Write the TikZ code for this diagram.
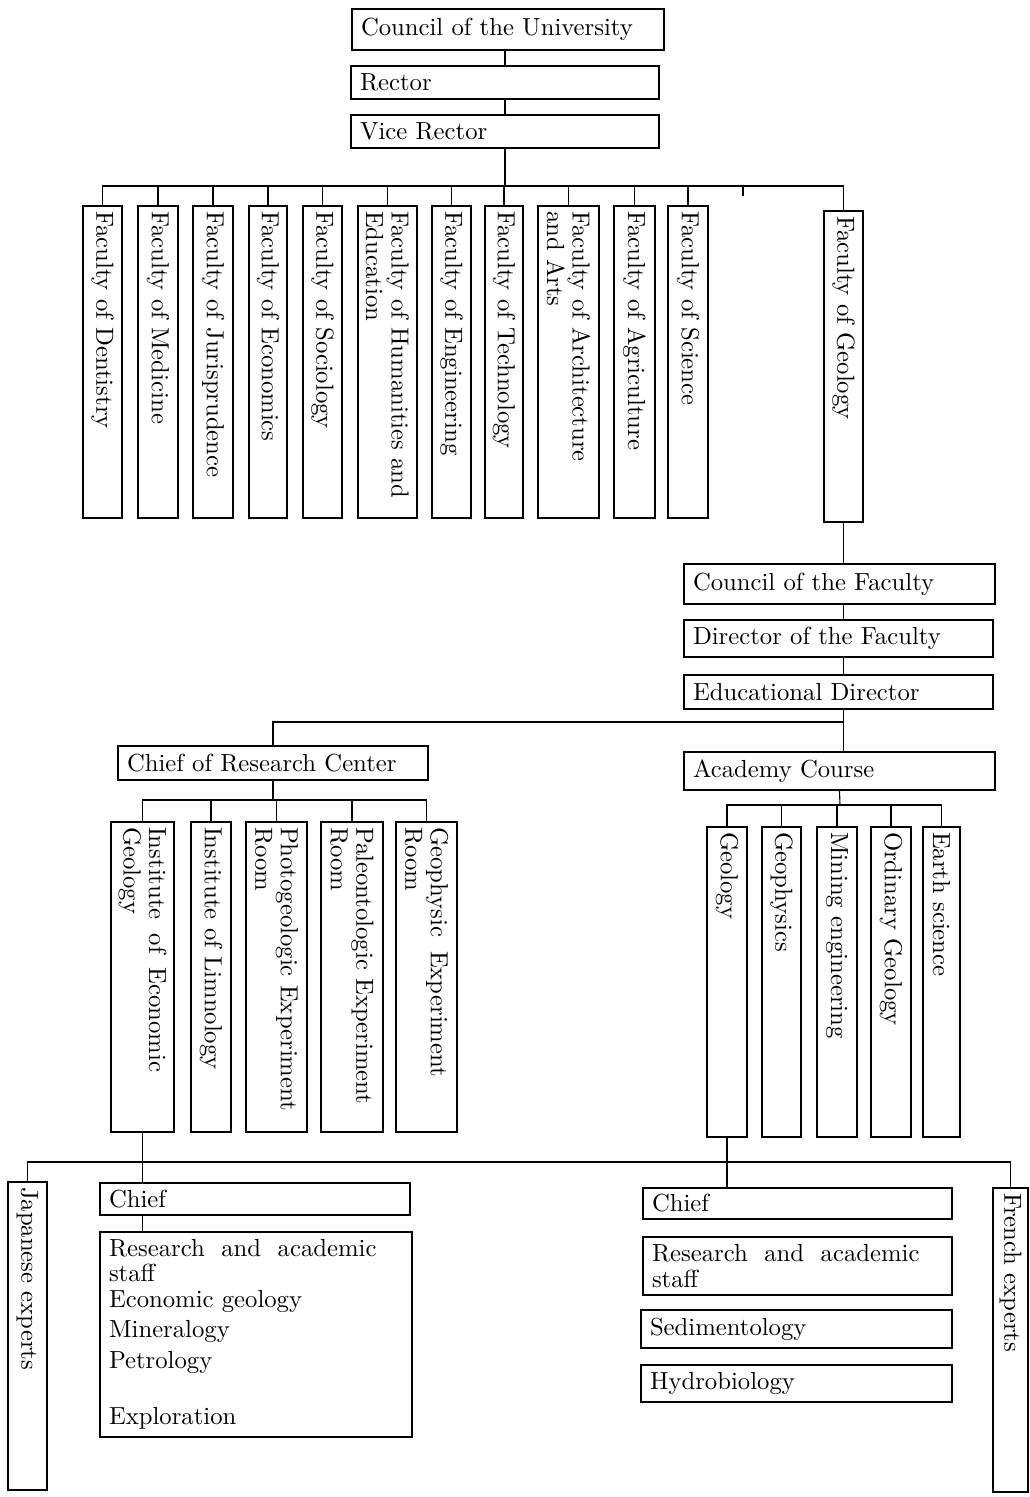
\documentclass[tikz,border=0pt]{standalone}
\usepackage{fontspec}
\newfontfamily\chartfam{lmroman10-regular.otf}
\newcommand\chartfont{\chartfam\fontsize{24.7}{25.5}\selectfont}
\tikzset{
  base/.style={draw, line width=1.1pt, font=\chartfont, align=left},
  hb/.style={base, inner xsep=9pt, inner ysep=0pt},
  vb/.style={base, rotate=-90, inner xsep=5pt, inner ysep=1pt},
  ln/.style={line width=1.1pt}
}
\begin{document}
\begin{tikzpicture}[x=1pt,y=-1pt]
\fill[white] (0,0) rectangle (1030,1497);
\useasboundingbox (0,0) rectangle (1030,1497);

% top
\node[hb, text width=294pt, minimum height=41pt] (cu) at (508,29.5) {Council of the University};
\node[hb, text width=290pt, minimum height=33pt] (rec) at (505,82.5) {Rector};
\node[hb, text width=290pt, minimum height=33pt] (vr) at (505,131.5) {Vice Rector};

% faculties
\node[vb, text width=302pt, minimum height=39pt] (dent) at (102.5,362) {Faculty of Dentistry};
\node[vb, text width=302pt, minimum height=40pt] (med) at (158,362) {Faculty of Medicine};
\node[vb, text width=302pt, minimum height=40pt] (jur) at (213,362) {Faculty of Jurisprudence};
\node[vb, text width=302pt, minimum height=38pt] (eco) at (268,362) {Faculty of Economics};
\node[vb, text width=302pt, minimum height=39pt] (soc) at (322.5,362) {Faculty of Sociology};
\node[vb, text width=302pt, minimum height=59pt] (hum) at (387.5,362) {Faculty of Humanities and\\Education};
\node[vb, text width=302pt, minimum height=39pt] (eng) at (451.5,362) {Faculty of Engineering};
\node[vb, text width=302pt, minimum height=38pt] (tech) at (504,362) {Faculty of Technology};
\node[vb, text width=302pt, minimum height=61pt] (arch) at (568.5,362) {Faculty of Architecture\\and Arts};
\node[vb, text width=302pt, minimum height=41pt] (agr) at (634.5,362) {Faculty of Agriculture};
\node[vb, text width=302pt, minimum height=40pt] (sci) at (688,362) {Faculty of Science};
\node[vb, text width=301pt, minimum height=39pt] (geo) at (843.5,366.5) {Faculty of Geology};

% faculty of geology chain
\node[hb, text width=293pt, minimum height=40pt] (cf) at (839.5,584) {Council of the Faculty};
\node[hb, text width=291pt, minimum height=37pt] (df) at (838.5,638.5) {Director of the Faculty};
\node[hb, text width=291pt, minimum height=34pt] (ed) at (838.5,692) {Educational Director};
\node[hb, text width=292pt, minimum height=34pt] (crc) at (273,763) {Chief of Research Center};
\node[hb, text width=293pt, minimum height=38pt] (ac) at (839.5,771) {Academy Course};

% research center units
\node[vb, text width=300pt, minimum height=63pt] (ieg) at (142.5,977) {Institute\hspace{14pt}of\hspace{14pt}Economic\\Geology};
\node[vb, text width=300pt, minimum height=40pt] (lim) at (211,977) {Institute of Limnology};
\node[vb, text width=300pt, minimum height=61pt] (pho) at (276.5,977) {Photogeologic Experiment\\Room};
\node[vb, text width=300pt, minimum height=62pt] (pal) at (352,977) {Paleontologic Experiment\\Room};
\node[vb, text width=300pt, minimum height=61pt] (gph) at (426.5,977) {Geophysic\hspace{14pt}Experiment\\Room};

% academy courses
\node[vb, text width=300pt, minimum height=40pt] (ageo) at (727,982) {Geology};
\node[vb, text width=300pt, minimum height=39pt] (agph) at (781.5,982) {Geophysics};
\node[vb, text width=300pt, minimum height=40pt] (amin) at (837,982) {Mining engineering};
\node[vb, text width=300pt, minimum height=40pt] (aord) at (891,982) {Ordinary Geology};
\node[vb, text width=300pt, minimum height=37pt] (aear) at (941.5,982) {Earth science};

% bottom
\node[vb, text width=298pt, minimum height=39pt] (jap) at (27.5,1336) {Japanese experts};
\node[vb, text width=294pt, minimum height=35pt] (fr) at (1010.5,1340) {French experts};
\node[hb, text width=292pt, minimum height=32pt] (lchief) at (255,1199) {Chief};
\node[hb, text width=294pt, minimum height=205pt] (lres) at (256,1334.5) {Research\hspace{16.5pt}and\hspace{16.5pt}academic\\staff\\Economic geology\\[5pt]Mineralogy\\[5pt]Petrology\\[31pt]Exploration};
\node[hb, text width=291pt, minimum height=31pt] (rchief) at (797.5,1203.5) {Chief};
\node[hb, text width=291pt, minimum height=58pt] (rres) at (797.5,1266) {Research\hspace{16.5pt}and\hspace{16.5pt}academic\\staff};
\node[hb, text width=293pt, minimum height=38pt] (rsed) at (796.5,1329) {Sedimentology};
\node[hb, text width=293pt, minimum height=37pt] (rhyd) at (796.5,1383.5) {Hydrobiology};

% connectors: top
\draw[ln] (cu.south -| rec.north) -- (rec.north);
\draw[ln] (rec.south) -- (vr.north);
\coordinate (b1) at (505,186);
\draw[ln] (vr.south) -- (b1);
\foreach \f in {dent,med,jur,eco,soc,hum,eng,tech,arch,agr,sci,geo}
  \draw[ln] (\f.west) |- (b1);
\coordinate (tk) at (743,196);
\draw[ln] (tk) -- (tk |- b1);

% geology chain
\draw[ln] (geo.east) -- (geo.east |- cf.north);
\draw[ln] (geo.east |- cf.south) -- (geo.east |- df.north);
\draw[ln] (geo.east |- df.south) -- (geo.east |- ed.north);
\draw[ln] (geo.east |- ed.south) -- (geo.east |- ac.north);
\coordinate (j1) at (843.5,722);
\draw[ln] (j1) -| (crc.north);

% research center bus
\coordinate (b2) at (273,800);
\draw[ln] (crc.south) -- (b2);
\foreach \f in {ieg,lim,pho,pal,gph}
  \draw[ln] (\f.west) |- (b2);

% academy bus
\coordinate (b3) at (840,805);
\draw[ln] (ac.south) -- (b3);
\foreach \f in {ageo,agph,amin,aord,aear}
  \draw[ln] (\f.west) |- (b3);

% bottom bus
\coordinate (b4) at (500,1162);
\draw[ln] (jap.west) |- (b4) -| (fr.west);
\draw[ln] (ieg.east) -- (ieg.east |- lchief.north);
\draw[ln] (ieg.east |- lchief.south) -- (ieg.east |- lres.north);
\draw[ln] (ageo.east) -- (ageo.east |- rchief.north);
\end{tikzpicture}
\end{document}
